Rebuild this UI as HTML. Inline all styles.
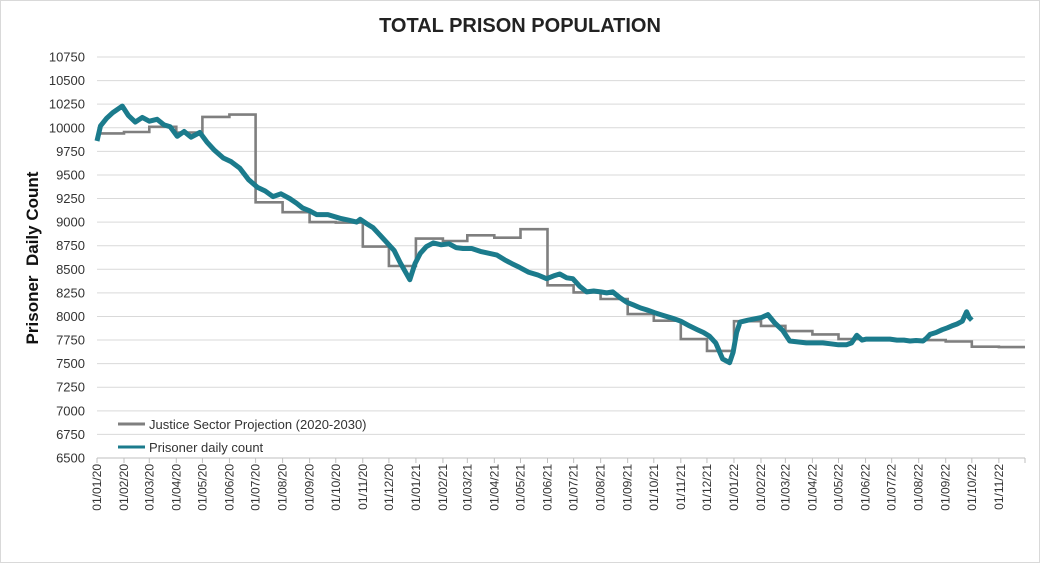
<!DOCTYPE html>
<html><head><meta charset="utf-8"><style>
body{margin:0;background:#fff;}
svg{display:block;font-family:"Liberation Sans",sans-serif;}
</style></head><body>
<svg id="chart" width="1040" height="563" viewBox="0 0 1040 563">
<rect x="0.5" y="0.5" width="1039" height="562" fill="#fff" stroke="#d9d9d9"/>
<text x="520" y="32" text-anchor="middle" font-size="20" font-weight="bold" fill="#222">TOTAL PRISON POPULATION</text>
<text transform="translate(38,258) rotate(-90)" text-anchor="middle" font-size="17" font-weight="bold" fill="#111">Prisoner&#160; Daily Count</text>
<g id="grid"></g><g id="yticks"></g><g id="xticks"></g><g id="series"></g>
<g>
<line x1="118" y1="424" x2="145" y2="424" stroke="#7f7f7f" stroke-width="3"/>
<text x="149" y="429" font-size="13" fill="#333">Justice Sector Projection (2020-2030)</text>
<line x1="118" y1="447" x2="145" y2="447" stroke="#1b7b8c" stroke-width="3"/>
<text x="149" y="452" font-size="13" fill="#333">Prisoner daily count</text>
</g>
</svg>
<script>
const yTicks=[6500,6750,7000,7250,7500,7750,8000,8250,8500,8750,9000,9250,9500,9750,10000,10250,10500,10750];
// projection: monthly step values Jan 2020 .. Nov 2022
const projValues=[9940,9955,10010,9950,10115,10140,9210,9105,9000,8995,8740,8535,8825,8800,8860,8835,8925,8330,8255,8185,8025,7955,7760,7635,7950,7900,7845,7810,7760,7765,7750,7750,7735,7680,7675];
// daily count keypoints: days since 01/01/20
const countDays=[0,4,11,18,29,36,44,52,60,69,77,84,92,100,108,118,126,135,145,154,164,174,184,193,202,211,221,229,236,244,252,265,279,289,298,302,310,317,325,333,341,348,359,365,371,378,386,395,404,412,420,430,440,450,459,468,476,485,495,506,516,524,531,539,546,554,562,570,578,585,592,600,608,616,624,631,640,650,661,670,680,689,696,703,710,718,722,726,730,734,738,747,757,763,770,778,787,795,804,814,823,833,842,851,860,866,872,878,883,889,896,903,910,918,926,933,940,948,952,956,963,970,976,981,987,993,998,1001,1004];
const countValues=[9860,10020,10100,10160,10230,10130,10060,10110,10070,10090,10030,10010,9910,9960,9900,9950,9850,9760,9680,9640,9570,9450,9370,9330,9270,9300,9250,9200,9150,9120,9080,9080,9040,9020,9000,9030,8980,8940,8860,8780,8700,8570,8390,8560,8670,8740,8780,8760,8770,8730,8720,8720,8690,8670,8650,8600,8560,8520,8470,8440,8400,8430,8450,8410,8400,8320,8260,8270,8260,8250,8260,8200,8150,8120,8090,8070,8040,8010,7980,7950,7900,7860,7830,7790,7720,7550,7530,7510,7620,7830,7940,7960,7980,7990,8020,7930,7850,7740,7730,7720,7720,7720,7710,7700,7700,7720,7800,7750,7760,7760,7760,7760,7760,7750,7750,7740,7745,7740,7770,7810,7830,7860,7880,7900,7920,7950,8050,7990,7960];

const NS='http://www.w3.org/2000/svg';
const X0=97,X1=1025,Y0=458,Y1=57;
const base=Date.UTC(2020,0,1);
const dayOf=(y,m)=>(Date.UTC(y,m,1)-base)/86400000;
const maxDay=dayOf(2022,11);
const xs=d=>X0+(d/maxDay)*(X1-X0);
const ys=v=>Y0-(v-6500)/(10750-6500)*(Y0-Y1);
function mk(tag,attrs,parent){const e=document.createElementNS(NS,tag);for(const k in attrs)e.setAttribute(k,attrs[k]);parent.appendChild(e);return e;}
const grid=document.getElementById('grid'),yt=document.getElementById('yticks'),xt=document.getElementById('xticks'),ser=document.getElementById('series');
yTicks.forEach(v=>{
  const l=mk('line',{x1:X0,x2:X1,y1:ys(v),y2:ys(v),stroke:v===6500?'#bfbfbf':'#d9d9d9','stroke-width':1},grid);
  
  
  const t=mk('text',{x:85,y:ys(v)+4.5,'text-anchor':'end','font-size':13,fill:'#333'},yt);
  t.textContent=v;
  
  
});
for(let i=0;i<=35;i++){
  const y=2020+Math.floor(i/12),m=i%12;
  const x=xs(dayOf(y,m));
  const tk=mk('line',{x1:x,x2:x,y1:Y0,y2:Y0+5,stroke:'#bfbfbf'},xt);
  
  
  if(i<35){
    const t=mk('text',{transform:`translate(${x+4},${Y0+6}) rotate(-90)`,'text-anchor':'end','font-size':12,fill:'#333'},xt);
    t.textContent='01/'+String(m+1).padStart(2,'0')+'/'+String(y%100);
    
    
  }
}
// projection step line
let pd='';
projValues.forEach((v,i)=>{
  const y=2020+Math.floor(i/12),m=i%12;
  const d0=dayOf(y,m),d1=dayOf(2020+Math.floor((i+1)/12),(i+1)%12);
  pd+=(i===0?'M':'L')+xs(d0).toFixed(1)+','+ys(v).toFixed(1)+'L'+xs(d1).toFixed(1)+','+ys(v).toFixed(1);
});
const p1=mk('path',{d:pd,fill:'none',stroke:'#7f7f7f','stroke-width':2.6,'stroke-linejoin':'miter'},ser);


let cd='';
countDays.forEach((d,i)=>{cd+=(i?'L':'M')+xs(d).toFixed(1)+','+ys(countValues[i]).toFixed(1);});
const p2=mk('path',{d:cd,fill:'none',stroke:'#1b7b8c','stroke-width':5,'stroke-linejoin':'round'},ser);


</script>
</body></html>
